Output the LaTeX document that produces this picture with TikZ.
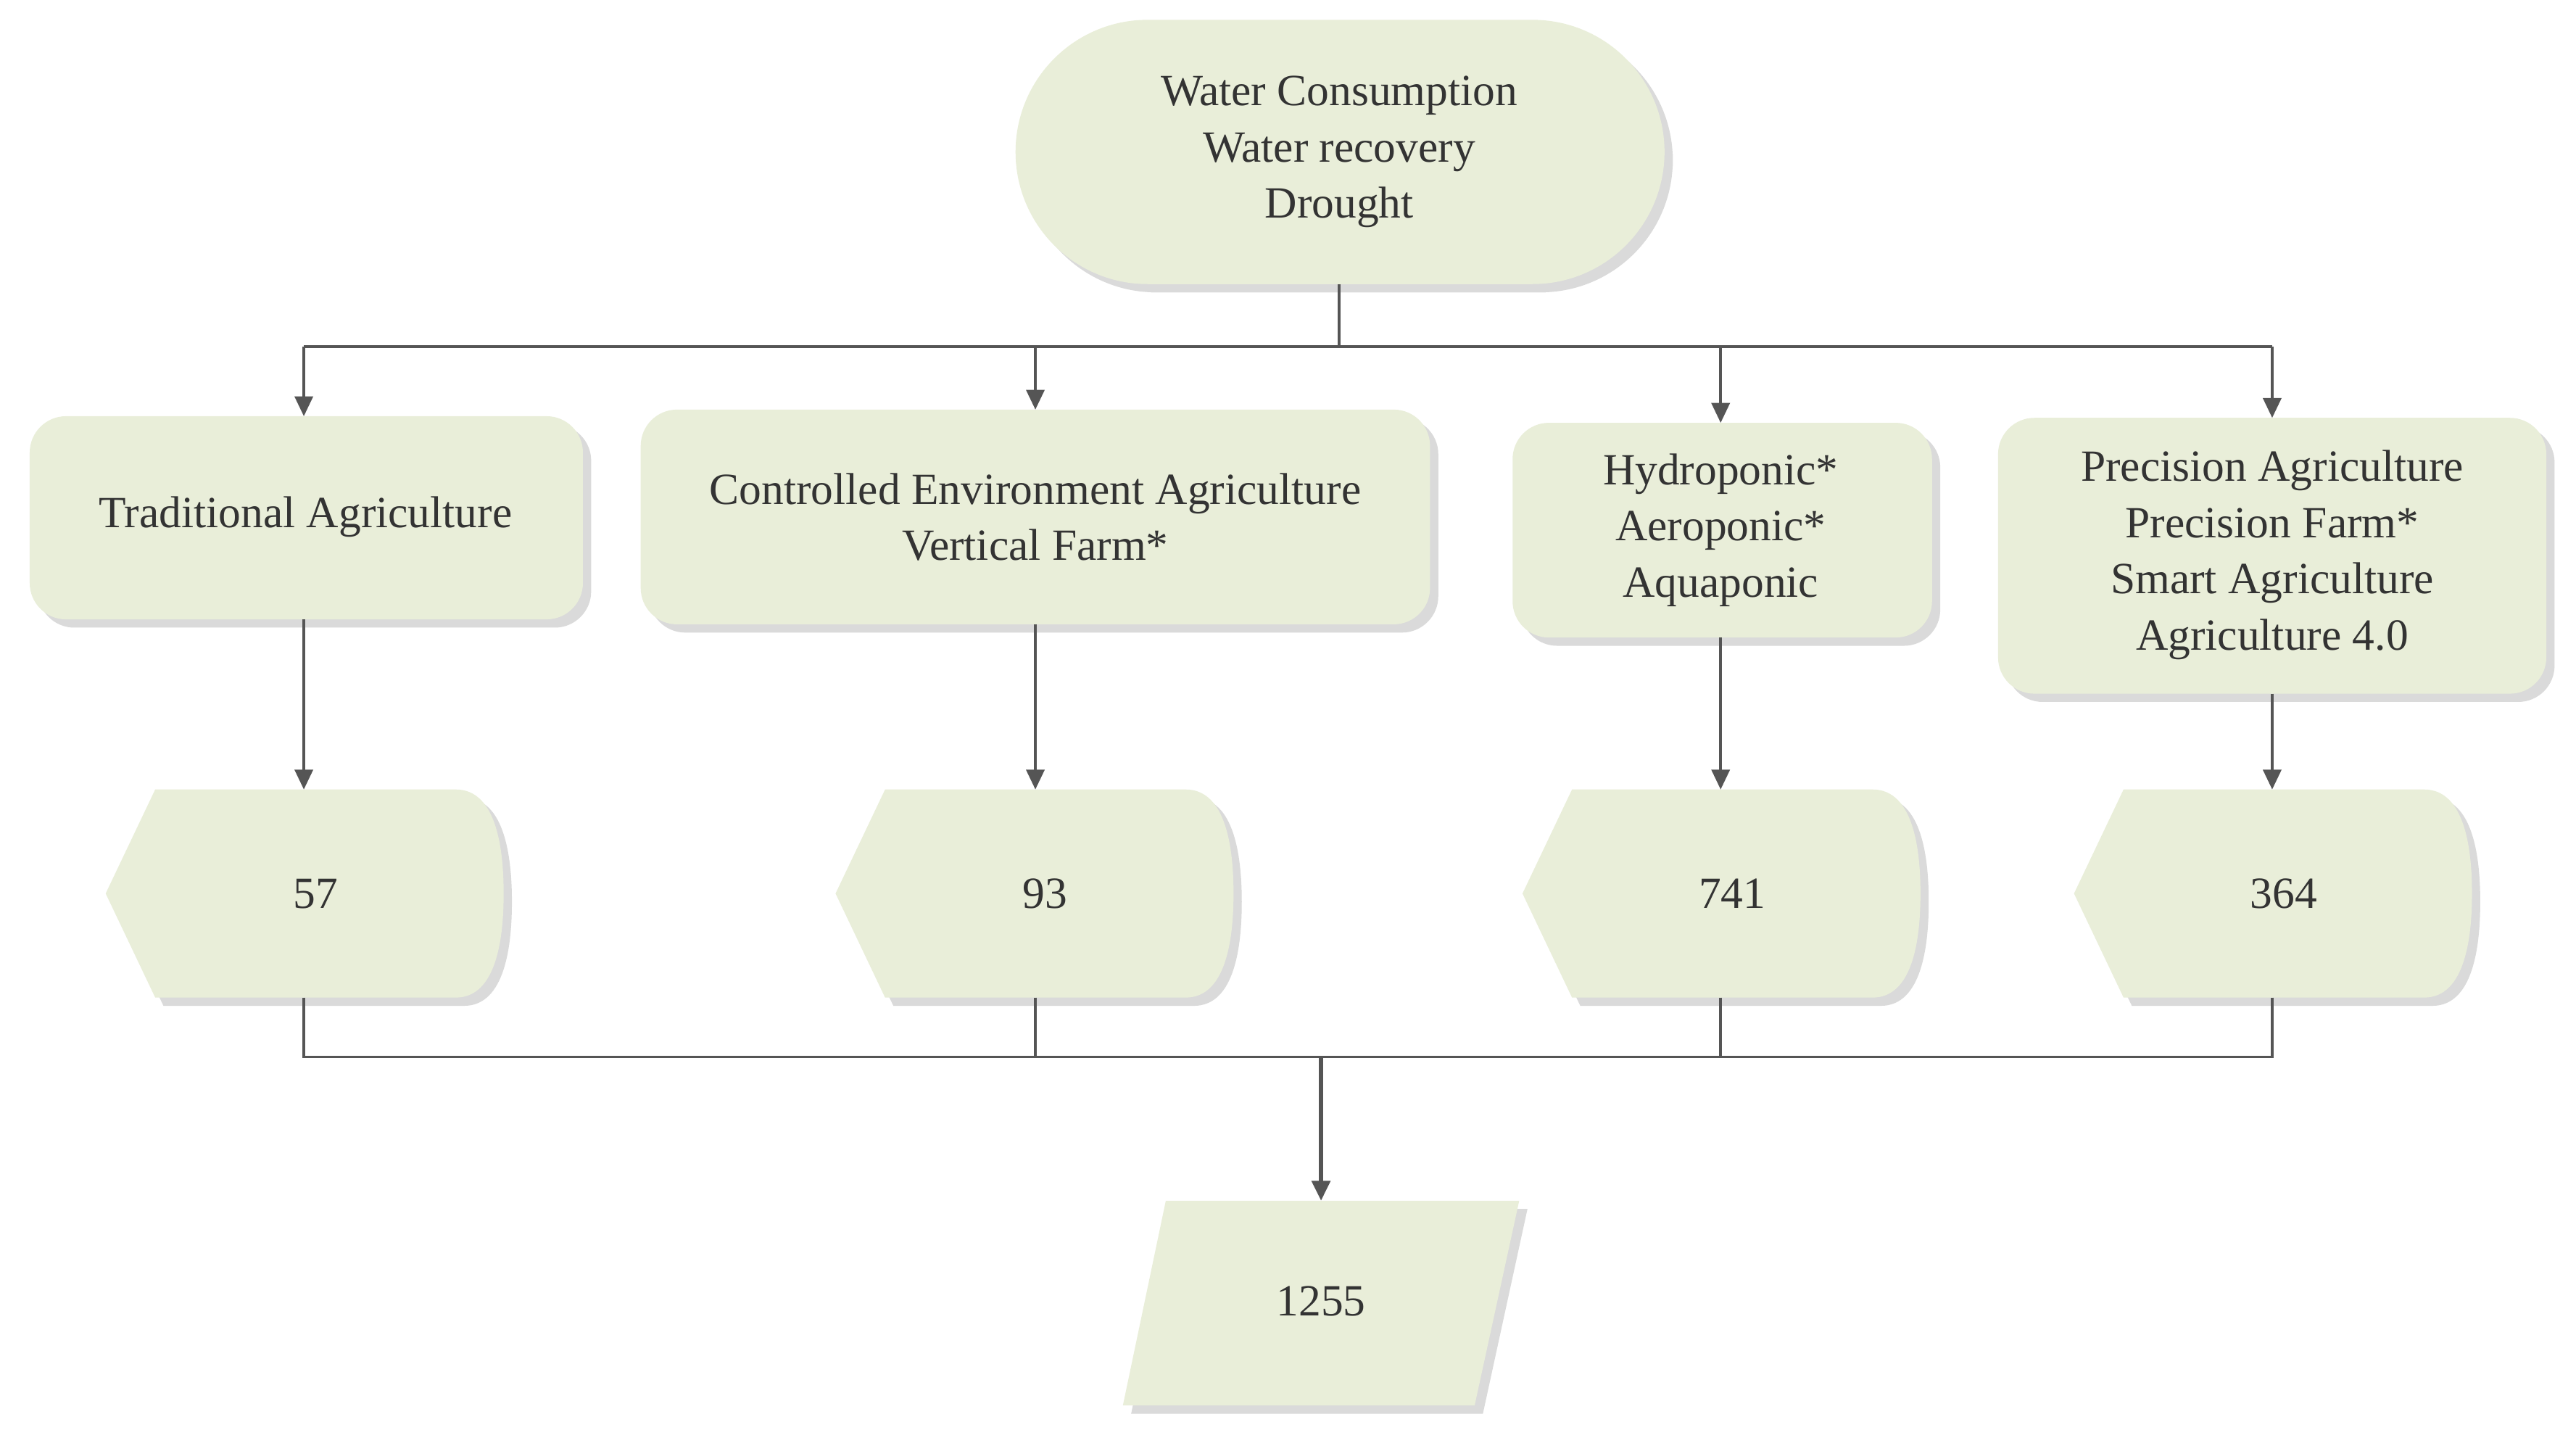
\documentclass[tikz,border=0pt]{standalone}
\usepackage{fontspec}
\setmainfont{Liberation Serif}
\usetikzlibrary{arrows.meta}
\definecolor{fillc}{HTML}{E9EED9}
\definecolor{shad}{HTML}{DADADA}
\definecolor{linec}{HTML}{555555}
\definecolor{txt}{HTML}{333333}
\begin{document}
\begin{tikzpicture}[x=1pt,y=-1pt,
  lbl/.style={text=txt,align=center,font=\fontsize{27}{34}\selectfont},
  boxs/.style={fill=fillc,rounded corners=22pt},
  conn/.style={draw=linec,line width=1.6pt},
  arr/.style={conn,-{Triangle[length=12pt,width=11pt]}}]
\useasboundingbox (0,0) rectangle (1560,865.4);
\fill[white] (0,0) rectangle (1560,865.4);
% top terminal
\fill[shad] (620,17) rectangle (1013,177) [rounded corners=80pt];
\fill[shad,rounded corners=80pt] (620,17) rectangle (1013,177);
\fill[white] (615,12) rectangle (1013,177);
\fill[shad,rounded corners=80pt] (620,17) rectangle (1013,177);
\fill[fillc,rounded corners=80pt] (615,12) rectangle (1008,172);
\node[lbl] (top) at (811,92) {Water Consumption\\Water recovery\\Drought};
\coordinate (topb) at (811,172);
% boxes
\foreach \a/\b/\c/\d in {18/252/353/375,388/248/866/378,916/256/1170/386,1210/253/1542/420}{
  \fill[shad,rounded corners=22pt] (\a+5,\b+5) rectangle (\c+5,\d+5);
  \fill[boxs] (\a,\b) rectangle (\c,\d);}
\node[lbl] (b1) at (185,313) {Traditional Agriculture};
\node[lbl] (b2) at (627,313) {Controlled Environment Agriculture\\Vertical Farm*};
\node[lbl] (b3) at (1042,321) {Hydroponic*\\Aeroponic*\\Aquaponic};
\node[lbl] (b4) at (1376,336) {Precision Agriculture\\Precision Farm*\\Smart Agriculture\\Agriculture 4.0};
\coordinate (b1t) at (184,252); \coordinate (b1b) at (184,375);
\coordinate (b2t) at (627,248); \coordinate (b2b) at (627,378);
\coordinate (b3t) at (1042,256); \coordinate (b3b) at (1042,386);
\coordinate (b4t) at (1376,253); \coordinate (b4b) at (1376,420);
% display shapes
\foreach \o in {0,442,858,1192}{
  \begin{scope}[xshift=\o pt]
  \fill[shad] (99,483) -- (281,483) .. controls (306,483) and (310,520) .. (310,546) .. controls (310,572) and (306,609) .. (281,609) -- (99,609) -- (69,546) -- cycle;
  \fill[fillc] (94,478) -- (276,478) .. controls (301,478) and (305,515) .. (305,541) .. controls (305,567) and (301,604) .. (276,604) -- (94,604) -- (64,541) -- cycle;
  \end{scope}}
\node[lbl] (d1) at (191,541) {57};
\node[lbl] (d2) at (633,541) {93};
\node[lbl] (d3) at (1049,541) {741};
\node[lbl] (d4) at (1383,541) {364};
\coordinate (d1t) at (184,478); \coordinate (d1b) at (184,604);
\coordinate (d2t) at (627,478); \coordinate (d2b) at (627,604);
\coordinate (d3t) at (1042,478); \coordinate (d3b) at (1042,604);
\coordinate (d4t) at (1376,478); \coordinate (d4b) at (1376,604);
% parallelogram
\fill[shad] (711,732) -- (925,732) -- (898,856) -- (685,856) -- cycle;
\fill[fillc] (706,727) -- (920,727) -- (893,851) -- (680,851) -- cycle;
\node[lbl] (res) at (800,788) {1255};
\coordinate (rest) at (800,727);
% connectors
\coordinate (j1) at (811,210);
\draw[conn] (topb) -- (j1);
\draw[conn] (184,210) -- (1376,210);
\draw[arr] (b1t|-j1) -- (b1t);
\draw[arr] (b2t|-j1) -- (b2t);
\draw[arr] (b3t|-j1) -- (b3t);
\draw[arr] (b4t|-j1) -- (b4t);
\draw[arr] (b1b) -- (d1t);
\draw[arr] (b2b) -- (d2t);
\draw[arr] (b3b) -- (d3t);
\draw[arr] (b4b) -- (d4t);
\coordinate (j2) at (800,640);
\draw[conn] (d1b) |- (j2);
\draw[conn] (d2b) |- (j2);
\draw[conn] (d3b) |- (j2);
\draw[conn] (d4b) |- (j2);
\draw[arr,line width=2.4pt] (j2) -- (rest);
\end{tikzpicture}
\end{document}
